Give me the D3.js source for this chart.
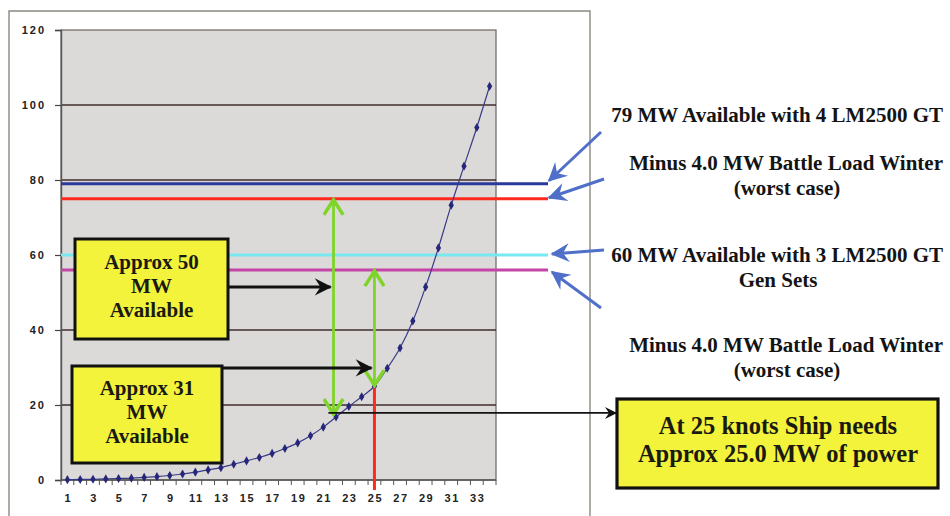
<!DOCTYPE html>
<html>
<head>
<meta charset="utf-8">
<script src="https://cdn.jsdelivr.net/npm/d3@7/dist/d3.min.js"></script>
<style>
  html, body { margin: 0; padding: 0; background: #ffffff; }
  svg { display: block; }
</style>
</head>
<body>
<svg id="chart" width="950" height="516"></svg>
<script>
// Ship speed (knots) and the electrical power needed to drive it (MW)
const knots = d3.range(1, 35);
const powerMW = [0.1, 0.15, 0.2, 0.3, 0.4, 0.5, 0.7, 0.9, 1.2, 1.6,
                 2.1, 2.7, 3.3, 4.2, 5.1, 6.0, 7.1, 8.4, 9.9, 11.8,
                 14.1, 16.8, 19.6, 22.2, 25.0, 29.8, 35.2, 42.4, 51.5, 61.9,
                 73.3, 83.7, 94.0, 105.0];
const yTicks = [0, 20, 40, 60, 80, 100, 120];
const xTickLabels = knots.filter(k => k % 2 === 1);

// Available power levels (MW)
const levelValues = [79, 75, 60, 56];
const levelColors = ["#2a3a9c", "#ff2a1e", "#78e8f2", "#c445a6"];

// Margins between available power and required power
const gapFrom = [75, 56];
const gapTo = [17.3, 25.0];
const gapKnot = [21.8, 25];

const labelLines = [
  "79 MW Available with 4 LM2500 GT",
  "Minus 4.0 MW Battle Load Winter",
  "(worst case)",
  "60 MW Available with 3 LM2500 GT",
  "Gen Sets",
  "Minus 4.0 MW Battle Load Winter",
  "(worst case)"
];
const box50Lines = ["Approx 50", "MW", "Available"];
const box31Lines = ["Approx 31", "MW", "Available"];
const needLines = ["At 25 knots Ship needs", "Approx 25.0 MW of power"];
const cruiseKnot = 25;

const svg = d3.select("#chart");
const serif = "'Liberation Serif', 'Times New Roman', serif";
const sans = "'Liberation Sans', Arial, sans-serif";

const plot = { left: 61, right: 496, top: 30, bottom: 480 };

const x = d3.scaleBand().domain(knots).range([plot.left, plot.right]).padding(0);
const xc = k => x(k) + x.bandwidth() / 2;
const xk = d3.scaleLinear().domain([1, 34]).range([xc(1), xc(34)]);
const y = d3.scaleLinear().domain([0, 120]).range([plot.bottom, plot.top]);

// arrow markers
const defs = svg.append("defs");
function barbed(id, color, size) {
  defs.append("marker")
    .attr("id", id).attr("viewBox", "-12 -7 14 14")
    .attr("refX", 0).attr("refY", 0)
    .attr("markerWidth", size).attr("markerHeight", size)
    .attr("markerUnits", "userSpaceOnUse")
    .attr("orient", "auto-start-reverse")
    .append("path").attr("d", "M1,0 L-11,-6 L-7,0 L-11,6 Z").attr("fill", color);
}
barbed("blueHead", "#4f6fc9", 22);
barbed("blackHead", "#111111", 20);
barbed("thinHead", "#111111", 14);
defs.append("marker")
  .attr("id", "greenHead").attr("viewBox", "-12 -8 14 16")
  .attr("refX", 0).attr("refY", 0)
  .attr("markerWidth", 20).attr("markerHeight", 22)
  .attr("markerUnits", "userSpaceOnUse")
  .attr("orient", "auto-start-reverse")
  .append("path").attr("d", "M-11,-7 L0,0 L-11,7")
  .attr("fill", "none").attr("stroke", "#7fd42a").attr("stroke-width", 2.6);

// outer frame
svg.append("path")
  .attr("d", "M9,516 L9,11 L590,11 L590,516")
  .attr("fill", "none").attr("stroke", "#8a8a80").attr("stroke-width", 1.4);

// plot area
svg.append("rect")
  .attr("x", plot.left).attr("y", plot.top)
  .attr("width", plot.right - plot.left).attr("height", plot.bottom - plot.top)
  .attr("fill", "#dbdad8").attr("stroke", "#6a6660").attr("stroke-width", 1.2);

// gridlines
svg.append("g").selectAll("line").data(yTicks.filter(v => v > 0 && v < 120)).join("line")
  .attr("x1", plot.left).attr("x2", plot.right)
  .attr("y1", d => y(d)).attr("y2", d => y(d))
  .attr("stroke", "#3e2c2c").attr("stroke-width", 1.3);

// y axis
const yAxis = svg.append("g").attr("transform", `translate(${plot.left},0)`)
  .call(d3.axisLeft(y).tickValues(yTicks).tickSize(6).tickPadding(9));
yAxis.select(".domain").attr("stroke", "#555").attr("stroke-width", 1.4);
yAxis.selectAll(".tick line").attr("stroke", "#444").attr("stroke-width", 1.2);
yAxis.selectAll("text").attr("font-family", sans).attr("font-weight", "bold")
  .attr("font-size", 11).attr("letter-spacing", 2).attr("fill", "#222");

// x axis: boundary ticks, odd labels
const xAxisG = svg.append("g").attr("transform", `translate(0,${plot.bottom})`);
xAxisG.append("line").attr("x1", plot.left).attr("x2", plot.right)
  .attr("stroke", "#555").attr("stroke-width", 1.4);
xAxisG.selectAll("line.tk").data(knots.concat([35])).join("line").attr("class", "tk")
  .attr("x1", d => d <= 34 ? x(d) : plot.right).attr("x2", d => d <= 34 ? x(d) : plot.right)
  .attr("y1", 0).attr("y2", 5).attr("stroke", "#555").attr("stroke-width", 1);
xAxisG.selectAll("text").data(xTickLabels).join("text")
  .attr("x", d => xc(d) + 1).attr("y", 22)
  .attr("text-anchor", "middle")
  .attr("font-family", sans).attr("font-weight", "bold").attr("font-size", 11)
  .attr("letter-spacing", 1.6).attr("fill", "#222")
  .text(d => d);

// available power levels
svg.append("g").selectAll("line").data(levelValues).join("line")
  .attr("x1", plot.left).attr("x2", 548)
  .attr("y1", d => y(d)).attr("y2", d => y(d))
  .attr("stroke", (d, i) => levelColors[i]).attr("stroke-width", 3);

// required power curve
const pts = knots.map((k, i) => [xc(k), y(powerMW[i])]);
svg.append("path")
  .attr("d", d3.line().curve(d3.curveMonotoneX)(pts))
  .attr("fill", "none").attr("stroke", "#3a3a88").attr("stroke-width", 1.2);
svg.append("g").selectAll("path").data(pts).join("path")
  .attr("transform", d => `translate(${d[0]},${d[1]})`)
  .attr("d", d3.symbol().type(d3.symbolDiamond).size(24))
  .attr("fill", "#26267a");

// speed marker
svg.append("line")
  .attr("x1", xc(cruiseKnot)).attr("x2", xc(cruiseKnot))
  .attr("y1", y(powerMW[cruiseKnot - 1])).attr("y2", plot.bottom + 10)
  .attr("stroke", "#ff2a1e").attr("stroke-width", 3);

// margin arrows
svg.append("g").selectAll("line").data(gapFrom).join("line")
  .attr("x1", (d, i) => xk(gapKnot[i])).attr("x2", (d, i) => xk(gapKnot[i]))
  .attr("y1", d => y(d) + 1).attr("y2", (d, i) => y(gapTo[i]) - 1)
  .attr("stroke", "#7fd42a").attr("stroke-width", 2.8)
  .attr("marker-start", "url(#greenHead)").attr("marker-end", "url(#greenHead)");

// annotation boxes
function box(x0, y0, x1, y1, lines, fs, cy, lh) {
  svg.append("rect").attr("x", x0).attr("y", y0)
    .attr("width", x1 - x0).attr("height", y1 - y0)
    .attr("fill", "#f3f33c").attr("stroke", "#111").attr("stroke-width", 3);
  svg.append("g").selectAll("text").data(lines).join("text")
    .attr("x", (x0 + x1) / 2).attr("y", (d, i) => cy + i * lh)
    .attr("text-anchor", "middle").attr("dominant-baseline", "central")
    .attr("font-family", serif).attr("font-weight", "bold").attr("font-size", fs)
    .attr("fill", "#1a1a10").text(d => d);
}
box(75, 239, 228, 339, box50Lines, 21, 262, 24);
box(72, 366, 222, 463, box31Lines, 21, 388, 24);

// pointer arrows from boxes
svg.append("line").attr("x1", 228).attr("x2", xk(gapKnot[0]) - 3)
  .attr("y1", y(51.5)).attr("y2", y(51.5))
  .attr("stroke", "#111").attr("stroke-width", 3).attr("marker-end", "url(#blackHead)");
svg.append("line").attr("x1", 222).attr("x2", xk(gapKnot[1]) - 3)
  .attr("y1", y(29.9)).attr("y2", y(29.9))
  .attr("stroke", "#111").attr("stroke-width", 3).attr("marker-end", "url(#blackHead)");

// required power callout
svg.append("line").attr("x1", xk(21.4)).attr("x2", 616)
  .attr("y1", y(17.9)).attr("y2", y(17.9))
  .attr("stroke", "#111").attr("stroke-width", 1.6).attr("marker-end", "url(#thinHead)");
svg.append("rect").attr("x", 617).attr("y", 399).attr("width", 321).attr("height", 89)
  .attr("fill", "#f3f33c").attr("stroke", "#111").attr("stroke-width", 3.2);
svg.append("g").selectAll("text").data(needLines).join("text")
  .attr("x", 778).attr("y", (d, i) => 425 + i * 28)
  .attr("text-anchor", "middle").attr("dominant-baseline", "central")
  .attr("font-family", serif).attr("font-weight", "bold").attr("font-size", 24.5)
  .attr("fill", "#1a1a10").text(d => d);

// level labels
const labelPos = [
  { x: 943, y: 115, a: "end" },
  { x: 943, y: 163, a: "end" },
  { x: 787, y: 188, a: "middle" },
  { x: 943, y: 255, a: "end" },
  { x: 778, y: 280, a: "middle" },
  { x: 943, y: 345, a: "end" },
  { x: 787, y: 370, a: "middle" }
];
svg.append("g").selectAll("text").data(labelLines).join("text")
  .attr("x", (d, i) => labelPos[i].x).attr("y", (d, i) => labelPos[i].y)
  .attr("text-anchor", (d, i) => labelPos[i].a).attr("dominant-baseline", "central")
  .attr("font-family", serif).attr("font-weight", "bold").attr("font-size", 21)
  .attr("fill", "#141414").text(d => d);

// pointers from labels to level lines
const pointers = [
  [[601, 132], [549, y(levelValues[0]) - 3]],
  [[604, 179], [549, y(levelValues[1]) - 1]],
  [[604, 250], [552, y(levelValues[2]) - 1]],
  [[601, 308], [552, y(levelValues[3]) + 2]]
];
svg.append("g").selectAll("line").data(pointers).join("line")
  .attr("x1", d => d[0][0]).attr("y1", d => d[0][1])
  .attr("x2", d => d[1][0]).attr("y2", d => d[1][1])
  .attr("stroke", "#4f6fc9").attr("stroke-width", 3)
  .attr("marker-end", "url(#blueHead)");
</script>
</body>
</html>
